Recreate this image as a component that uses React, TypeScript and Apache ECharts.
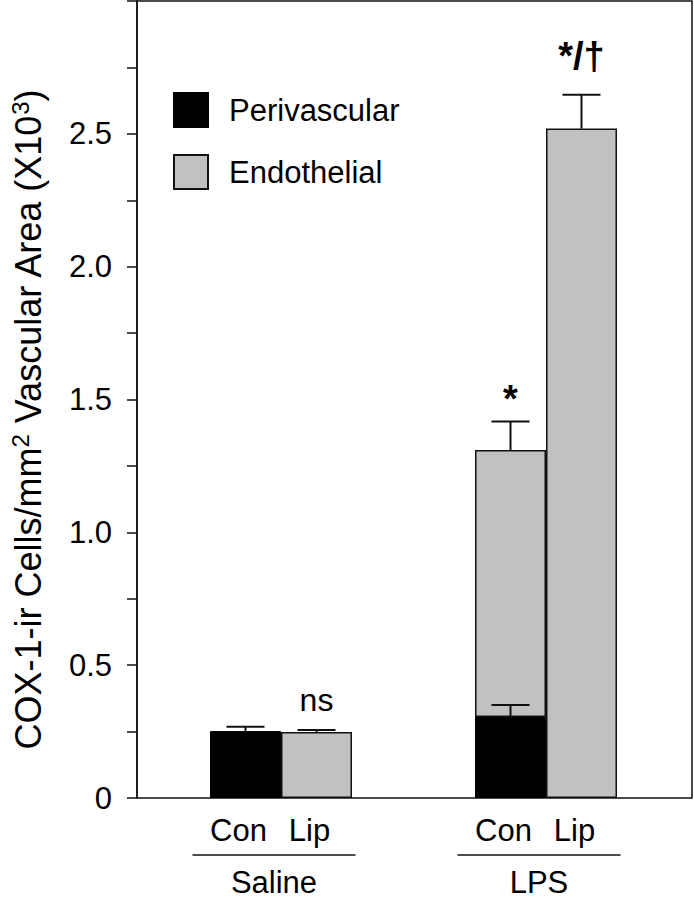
import React, { useEffect, useRef } from "react";
import * as echarts from "echarts";

// ---- data ----
const categories = ["Saline", "LPS"];
const subLabels = ["Con", "Lip"];
const periCon = [0.252, 0.305];
const periConErr = [0.016, 0.045];
const endoCon: (number | null)[] = [null, 1.31];
const endoConErr: (number | null)[] = [null, 0.107];
const endoLip = [0.248, 2.52];
const endoLipErr = [0.008, 0.127];
const conNotes = ["", "*"];
const lipNotes = ["ns", "*/†"];
const yTicks = { min: 0, max: 3, step: 0.25 };

const FONT = "'Liberation Sans', Arial, Helvetica, sans-serif";
const BAR_W = 71;
const HALF = BAR_W / 2;
const GRAY = "#c1c1c1";
const INK = "#111";
const NOTE_STYLE: Record<string, { size: number; bold: boolean; lift: number }> = {
  ns: { size: 32, bold: false, lift: 30 },
  "*": { size: 38, bold: true, lift: 23 },
  "*/†": { size: 38, bold: true, lift: 39 },
};

export default function App() {
  const ref = useRef<HTMLDivElement>(null);

  useEffect(() => {
    if (!ref.current) return;
    const chart = echarts.init(ref.current, null, { renderer: "svg" });

    // error bar items: [categoryIndex, barTop, error, side]
    const errItems: number[][] = [];
    periCon.forEach((v, i) => errItems.push([i, v, periConErr[i], -1]));
    endoCon.forEach((v, i) => {
      if (v != null && endoConErr[i] != null) errItems.push([i, v, endoConErr[i] as number, -1]);
    });
    endoLip.forEach((v, i) => errItems.push([i, v, endoLipErr[i], 1]));

    // annotation items
    const noteItems: { value: number[]; note: string }[] = [];
    conNotes.forEach((n, i) => {
      if (!n) return;
      const top = endoCon[i] != null ? (endoCon[i] as number) + (endoConErr[i] as number) : periCon[i] + periConErr[i];
      noteItems.push({ value: [i, top, -1], note: n });
    });
    lipNotes.forEach((n, i) => {
      if (!n) return;
      noteItems.push({ value: [i, endoLip[i] + endoLipErr[i], 1], note: n });
    });

    const endoConSegment = endoCon.map((v, i) => (v == null ? "-" : +(v - periCon[i]).toFixed(3)));

    const hiddenY = (gi: number) => ({
      type: "value",
      gridIndex: gi,
      min: yTicks.min,
      max: yTicks.max,
      show: false,
    });

    chart.setOption({
      animation: false,
      textStyle: { fontFamily: FONT },
      grid: [
        { left: 134, right: 2, top: 1, bottom: 101, show: true, borderColor: INK, borderWidth: 1.5, backgroundColor: "transparent" },
        { left: 148.5, right: 15.5, top: 1, bottom: 101 },
        { left: 141.5, right: 22.5, top: 1, bottom: 101 },
      ],
      legend: {
        data: ["Perivascular", "Endothelial"],
        orient: "vertical",
        left: 168,
        top: 87,
        itemWidth: 34,
        itemHeight: 34,
        itemGap: 26,
        icon: "rect",
        textStyle: { fontSize: 31, color: "#000", fontFamily: FONT, padding: [0, 0, 0, 16] },
      },
      xAxis: [
        { type: "value", gridIndex: 0, min: 0, max: 1, show: false },
        { type: "category", gridIndex: 1, data: categories, show: false },
        {
          type: "category",
          gridIndex: 2,
          data: categories,
          axisLine: { show: false },
          axisTick: { show: false },
          axisLabel: {
            margin: 15,
            interval: 0,
            formatter: (v: string) => `{c|${subLabels[0]}}{c|${subLabels[1]}}\n{l|}\n{g|${v}}`,
            rich: {
              c: { fontSize: 31, fontFamily: FONT, color: "#000", width: BAR_W, align: "center", lineHeight: 34 },
              l: { width: 163, height: 1.6, backgroundColor: INK, lineHeight: 16, align: "center" },
              g: { fontSize: 31, fontFamily: FONT, color: "#000", align: "center", lineHeight: 38 },
            },
          },
        },
      ],
      yAxis: [
        {
          type: "value",
          gridIndex: 0,
          min: yTicks.min,
          max: yTicks.max,
          interval: yTicks.step,
          name: "{t|COX-1-ir Cells/mm}{s|2}{t| Vascular Area (X10}{s|3}{t|)}",
          nameLocation: "middle",
          nameRotate: 90,
          nameGap: 89,
          nameTextStyle: {
            padding: [0, 40, 0, 0],
            rich: {
              t: { fontSize: 36, fontFamily: FONT, color: "#000", lineHeight: 40 },
              s: { fontSize: 24, fontFamily: FONT, color: "#000", verticalAlign: "top", lineHeight: 40 },
            },
          },
          axisLine: { show: true, lineStyle: { color: INK, width: 1.5 } },
          axisTick: { show: true, inside: false, length: 10, lineStyle: { color: INK, width: 1.5 } },
          splitLine: { show: false },
          axisLabel: {
            fontSize: 31,
            color: "#000",
            fontFamily: FONT,
            margin: 25,
            formatter: (v: number) => {
              const k = Math.round(v * 100);
              if (k % 50 !== 0 || v >= yTicks.max) return "";
              return v === 0 ? "0" : v.toFixed(1);
            },
          },
        },
        hiddenY(1),
        hiddenY(2),
      ],
      series: [
        {
          type: "bar",
          name: "Perivascular",
          xAxisIndex: 1,
          yAxisIndex: 1,
          stack: "con",
          barWidth: BAR_W,
          barGap: "0%",
          data: periCon,
          itemStyle: { color: "#000", borderColor: "#000", borderWidth: 1 },
          z: 2,
        },
        {
          type: "bar",
          name: "Endothelial",
          xAxisIndex: 1,
          yAxisIndex: 1,
          stack: "con",
          barWidth: BAR_W,
          barGap: "0%",
          data: endoConSegment,
          itemStyle: { color: GRAY, borderColor: INK, borderWidth: 1.5 },
          z: 2,
        },
        {
          type: "bar",
          name: "Endothelial",
          xAxisIndex: 1,
          yAxisIndex: 1,
          stack: "lip",
          barWidth: BAR_W,
          barGap: "0%",
          data: endoLip,
          itemStyle: { color: GRAY, borderColor: INK, borderWidth: 1.5 },
          z: 2,
        },
        {
          type: "custom",
          xAxisIndex: 1,
          yAxisIndex: 1,
          z: 3,
          silent: true,
          data: errItems,
          renderItem: (params: any, api: any) => {
            const c = api.value(0);
            const v = api.value(1);
            const e = api.value(2);
            const side = api.value(3);
            const base = api.coord([c, v]);
            const top = api.coord([c, v + e]);
            const x = base[0] + side * HALF;
            return {
              type: "group",
              children: [
                { type: "line", shape: { x1: x, y1: base[1], x2: x, y2: top[1] }, style: { stroke: INK, lineWidth: 2 } },
                { type: "line", shape: { x1: x - 19, y1: top[1], x2: x + 19, y2: top[1] }, style: { stroke: INK, lineWidth: 2 } },
              ],
            };
          },
        },
        {
          type: "custom",
          xAxisIndex: 1,
          yAxisIndex: 1,
          z: 4,
          silent: true,
          data: noteItems,
          renderItem: (params: any, api: any) => {
            const c = api.value(0);
            const v = api.value(1);
            const side = api.value(2);
            const p = api.coord([c, v]);
            const note = noteItems[params.dataIndex].note;
            const st = NOTE_STYLE[note] || { size: 32, bold: false, lift: 30 };
            return {
              type: "text",
              x: p[0] + side * HALF,
              y: p[1] - st.lift,
              style: {
                text: note,
                fill: "#000",
                font: `${st.bold ? "bold " : ""}${st.size}px ${FONT}`,
                align: "center",
                verticalAlign: "middle",
              },
            };
          },
        },
      ],
    });

    return () => chart.dispose();
  }, []);

  return <div ref={ref} style={{ position: "absolute", left: 0, top: 0, width: 694, height: 899 }} />;
}
